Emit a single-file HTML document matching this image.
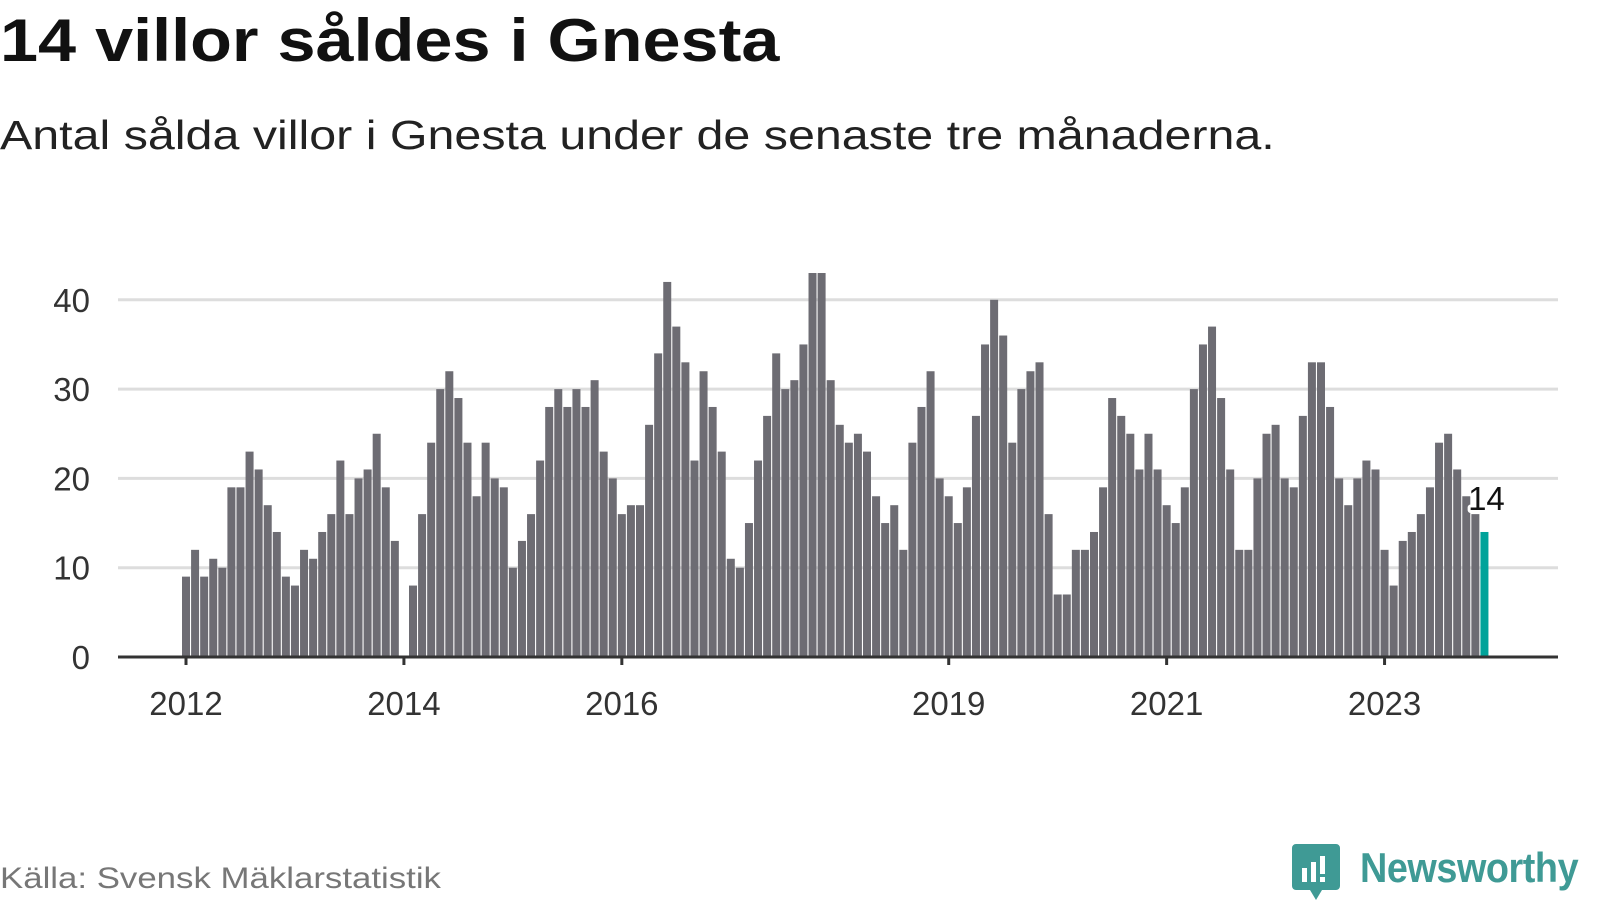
<!DOCTYPE html>
<html><head><meta charset="utf-8"><style>
body{margin:0;width:1600px;height:900px;background:#fff;font-family:"Liberation Sans",sans-serif;overflow:hidden;position:relative}
.t{position:absolute;white-space:nowrap;transform-origin:0 0}
</style></head><body>
<div class="t" style="left:0;top:6px;font-size:60px;font-weight:bold;color:#111;transform:scaleX(1.14)">14 villor såldes i Gnesta</div>
<div class="t" style="left:0;top:112px;font-size:41px;color:#222;transform:scaleX(1.18)">Antal sålda villor i Gnesta under de senaste tre månaderna.</div>
<svg id="chart" width="1600" height="820" style="position:absolute;left:0;top:0"></svg>
<div class="t" style="left:0;top:862px;font-size:30px;color:#777;transform:scaleX(1.16)">Källa: Svensk Mäklarstatistik</div>
<div style="position:absolute;left:1292px;top:844px;width:48px;height:46px">
<svg width="48" height="58" viewBox="0 0 48 58"><path d="M4 0H44a4 4 0 0 1 4 4V42a4 4 0 0 1-4 4H30L24 56L18 46H4a4 4 0 0 1-4-4V4a4 4 0 0 1 4-4Z" fill="#3f9a95"/><rect x="10" y="24" width="5" height="14" fill="#fff"/><rect x="19" y="18" width="5" height="20" fill="#fff"/><rect x="28" y="12" width="5" height="18" fill="#fff"/><rect x="28" y="33" width="5" height="5" fill="#fff"/></svg></div>
<div class="t" style="left:1360px;top:844px;font-size:42px;color:#3f9a95;font-weight:bold;letter-spacing:-0.5px;transform:scaleX(0.9)">Newsworthy</div>
<script>
const values=[9,12,9,11,10,19,19,23,21,17,14,9,
8,12,11,14,16,22,16,20,21,25,19,13,
0,8,16,24,30,32,29,24,18,24,20,19,
10,13,16,22,28,30,28,30,28,31,23,20,
16,17,17,26,34,42,37,33,22,32,28,23,
11,10,15,22,27,34,30,31,35,43,43,31,
26,24,25,23,18,15,17,12,24,28,32,20,
18,15,19,27,35,40,36,24,30,32,33,16,
7,7,12,12,14,19,29,27,25,21,25,21,
17,15,19,30,35,37,29,21,12,12,20,25,
26,20,19,27,33,33,28,20,17,20,22,21,
12,8,13,14,16,19,24,25,21,18,16,14];
const yTicks=[0,10,20,30,40];
const xTickLabels=["2012","2014","2016","2019","2021","2023"];
const xTickIndex=[0,24,48,84,108,132];
const NS="http://www.w3.org/2000/svg";
const svg=document.getElementById('chart');
const y0=657,pu=8.93,x0=186,step=9.08;
const ys=v=>y0-v*pu, xs=i=>x0+i*step;
function mk(t,a){const e=document.createElementNS(NS,t);for(const k in a)e.setAttribute(k,a[k]);svg.appendChild(e);return e;}
yTicks.forEach(v=>{
 if(v>0){const g=mk('line',{x1:118,x2:1558,y1:ys(v),y2:ys(v),stroke:'#ddd','stroke-width':3});
 
 }
 const t=mk('text',{x:90,y:ys(v)+12,'text-anchor':'end','font-size':33,fill:'#333'});
 
 
 t.textContent=v;
});
values.forEach((v,i)=>{
 const last=i===values.length-1;
 const r=mk('rect',{x:xs(i)-4,y:ys(v),width:8,height:v*pu,fill:last?'#00a39a':'#6d6c73'});
 
 
});
const ax=mk('line',{x1:118,x2:1558,y1:y0,y2:y0,stroke:'#333','stroke-width':3});


xTickLabels.forEach((l,k)=>{
 const x=xs(xTickIndex[k]);
 const tk=mk('line',{x1:x,x2:x,y1:y0,y2:y0+8,stroke:'#333','stroke-width':3});
 
 
 const t=mk('text',{x:x,y:715,'text-anchor':'middle','font-size':33,fill:'#333'});
 
 
 t.textContent=l;
});
const li=values.length-1;
const lbl=mk('text',{x:xs(li)+2,y:ys(values[li])-22,'text-anchor':'middle','font-size':33,fill:'#111',stroke:'#fff','stroke-width':6,'paint-order':'stroke','stroke-linejoin':'round'});


lbl.textContent=values[li];
</script>
</body></html>
